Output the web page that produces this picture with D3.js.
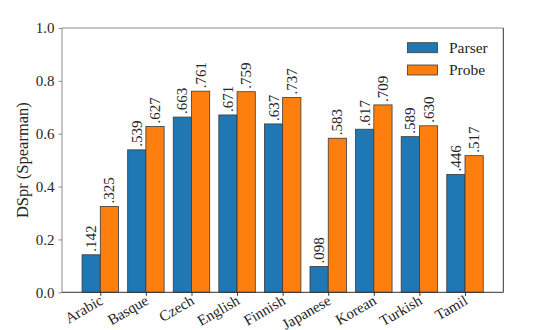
<!DOCTYPE html>
<html>
<head>
<meta charset="utf-8">
<style>
  body { margin: 0; background: #fff; }
</style>
</head>
<body>
<script src="https://d3js.org/d3.v7.min.js"></script>
<script>
var languages = ["Arabic", "Basque", "Czech", "English", "Finnish", "Japanese", "Korean", "Turkish", "Tamil"];
var parser = [0.142, 0.539, 0.663, 0.671, 0.637, 0.098, 0.617, 0.589, 0.446];
var probe = [0.325, 0.627, 0.761, 0.759, 0.737, 0.583, 0.709, 0.630, 0.517];
var yTicks = [0.0, 0.2, 0.4, 0.6, 0.8, 1.0];
var seriesNames = ["Parser", "Probe"];
var colors = ["#1f77b4", "#ff7f0e"];

var W = 541, H = 330;
var pLeft = 62, pRight = 503.3, pTop = 28, pBottom = 292.3;
var barW = 0.4;
var serif = "'Liberation Serif'";
var ink = "#262626";

var svg = d3.select("body").append("svg")
    .attr("width", W).attr("height", H);

var x = d3.scaleLinear().domain([-0.84, languages.length - 1 + 0.84]).range([pLeft, pRight]);
var y = d3.scaleLinear().domain([0, 1]).range([pBottom, pTop]);

var series = [parser, probe];

// bars + value labels
series.forEach(function(vals, s) {
    var off = s === 0 ? -barW : 0;
    svg.append("g").selectAll("rect")
        .data(vals)
        .enter().append("rect")
        .attr("x", function(d, i) { return x(i + off); })
        .attr("y", function(d) { return y(d); })
        .attr("width", x(barW) - x(0))
        .attr("height", function(d) { return y(0) - y(d); })
        .attr("fill", colors[s])
        .attr("stroke", "#3a3a3a")
        .attr("stroke-width", 0.8);

    svg.append("g").selectAll("text")
        .data(vals)
        .enter().append("text")
        .attr("transform", function(d, i) {
            return "translate(" + (x(i + off + barW / 2) + 5) + "," + (y(d) - 3) + ") rotate(-90)";
        })
        .style("font-family", serif)
        .style("font-size", "15px")
        .style("fill", ink)
        .text(function(d) { return d3.format(".3f")(d).replace(/^0/, ""); });
});

// spines
svg.append("line").attr("x1", pLeft).attr("x2", pRight).attr("y1", pTop).attr("y2", pTop)
    .attr("stroke", "#8a8a8a").attr("stroke-width", 1);
svg.append("line").attr("x1", pLeft).attr("x2", pLeft).attr("y1", pTop).attr("y2", pBottom)
    .attr("stroke", "#8a8a8a").attr("stroke-width", 1);
svg.append("line").attr("x1", pRight).attr("x2", pRight).attr("y1", pTop).attr("y2", pBottom)
    .attr("stroke", "#333").attr("stroke-width", 1);
svg.append("line").attr("x1", pLeft).attr("x2", pRight).attr("y1", pBottom).attr("y2", pBottom)
    .attr("stroke", "#333").attr("stroke-width", 1);

// y axis
var yAxis = svg.append("g")
    .attr("transform", "translate(" + pLeft + ",0)")
    .call(d3.axisLeft(y).tickValues(yTicks).tickFormat(d3.format(".1f")).tickSizeOuter(0).tickSize(3.5).tickPadding(4));
yAxis.select(".domain").remove();
yAxis.selectAll(".tick line").attr("stroke", "#8a8a8a");
yAxis.selectAll(".tick text")
    .style("font-family", serif)
    .style("font-size", "15px")
    .style("fill", ink);

// x axis ticks
var xAxis = svg.append("g")
    .attr("transform", "translate(0," + pBottom + ")")
    .call(d3.axisBottom(x).tickValues(d3.range(languages.length)).tickSize(3.5).tickFormat(""));
xAxis.select(".domain").remove();
xAxis.selectAll(".tick line").attr("stroke", "#333");

svg.append("g").selectAll("text")
    .data(languages)
    .enter().append("text")
    .attr("transform", function(d, i) {
        return "translate(" + (x(i) - 1.5) + "," + (pBottom + 2) + ") rotate(-30)";
    })
    .attr("text-anchor", "end")
    .attr("dy", "0.7em")
    .style("font-family", serif)
    .style("font-size", "15px")
    .style("fill", ink)
    .text(function(d) { return d; });

// y label
svg.append("text")
    .attr("transform", "translate(28," + ((pTop + pBottom) / 2) + ") rotate(-90)")
    .attr("text-anchor", "middle")
    .style("font-family", serif)
    .style("font-size", "16.5px")
    .style("fill", ink)
    .text("DSpr (Spearman)");

// legend
var leg = svg.append("g");
seriesNames.forEach(function(name, s) {
    leg.append("rect")
        .attr("x", 407.5).attr("y", 42.7 + s * 22.3)
        .attr("width", 30).attr("height", 10)
        .attr("fill", colors[s]).attr("stroke", "#3a3a3a").attr("stroke-width", 0.8);
    leg.append("text")
        .attr("x", 449).attr("y", 53 + s * 22.3)
        .style("font-family", serif)
        .style("font-size", "15.5px")
        .style("fill", ink)
        .text(name);
});
</script>
</body>
</html>
